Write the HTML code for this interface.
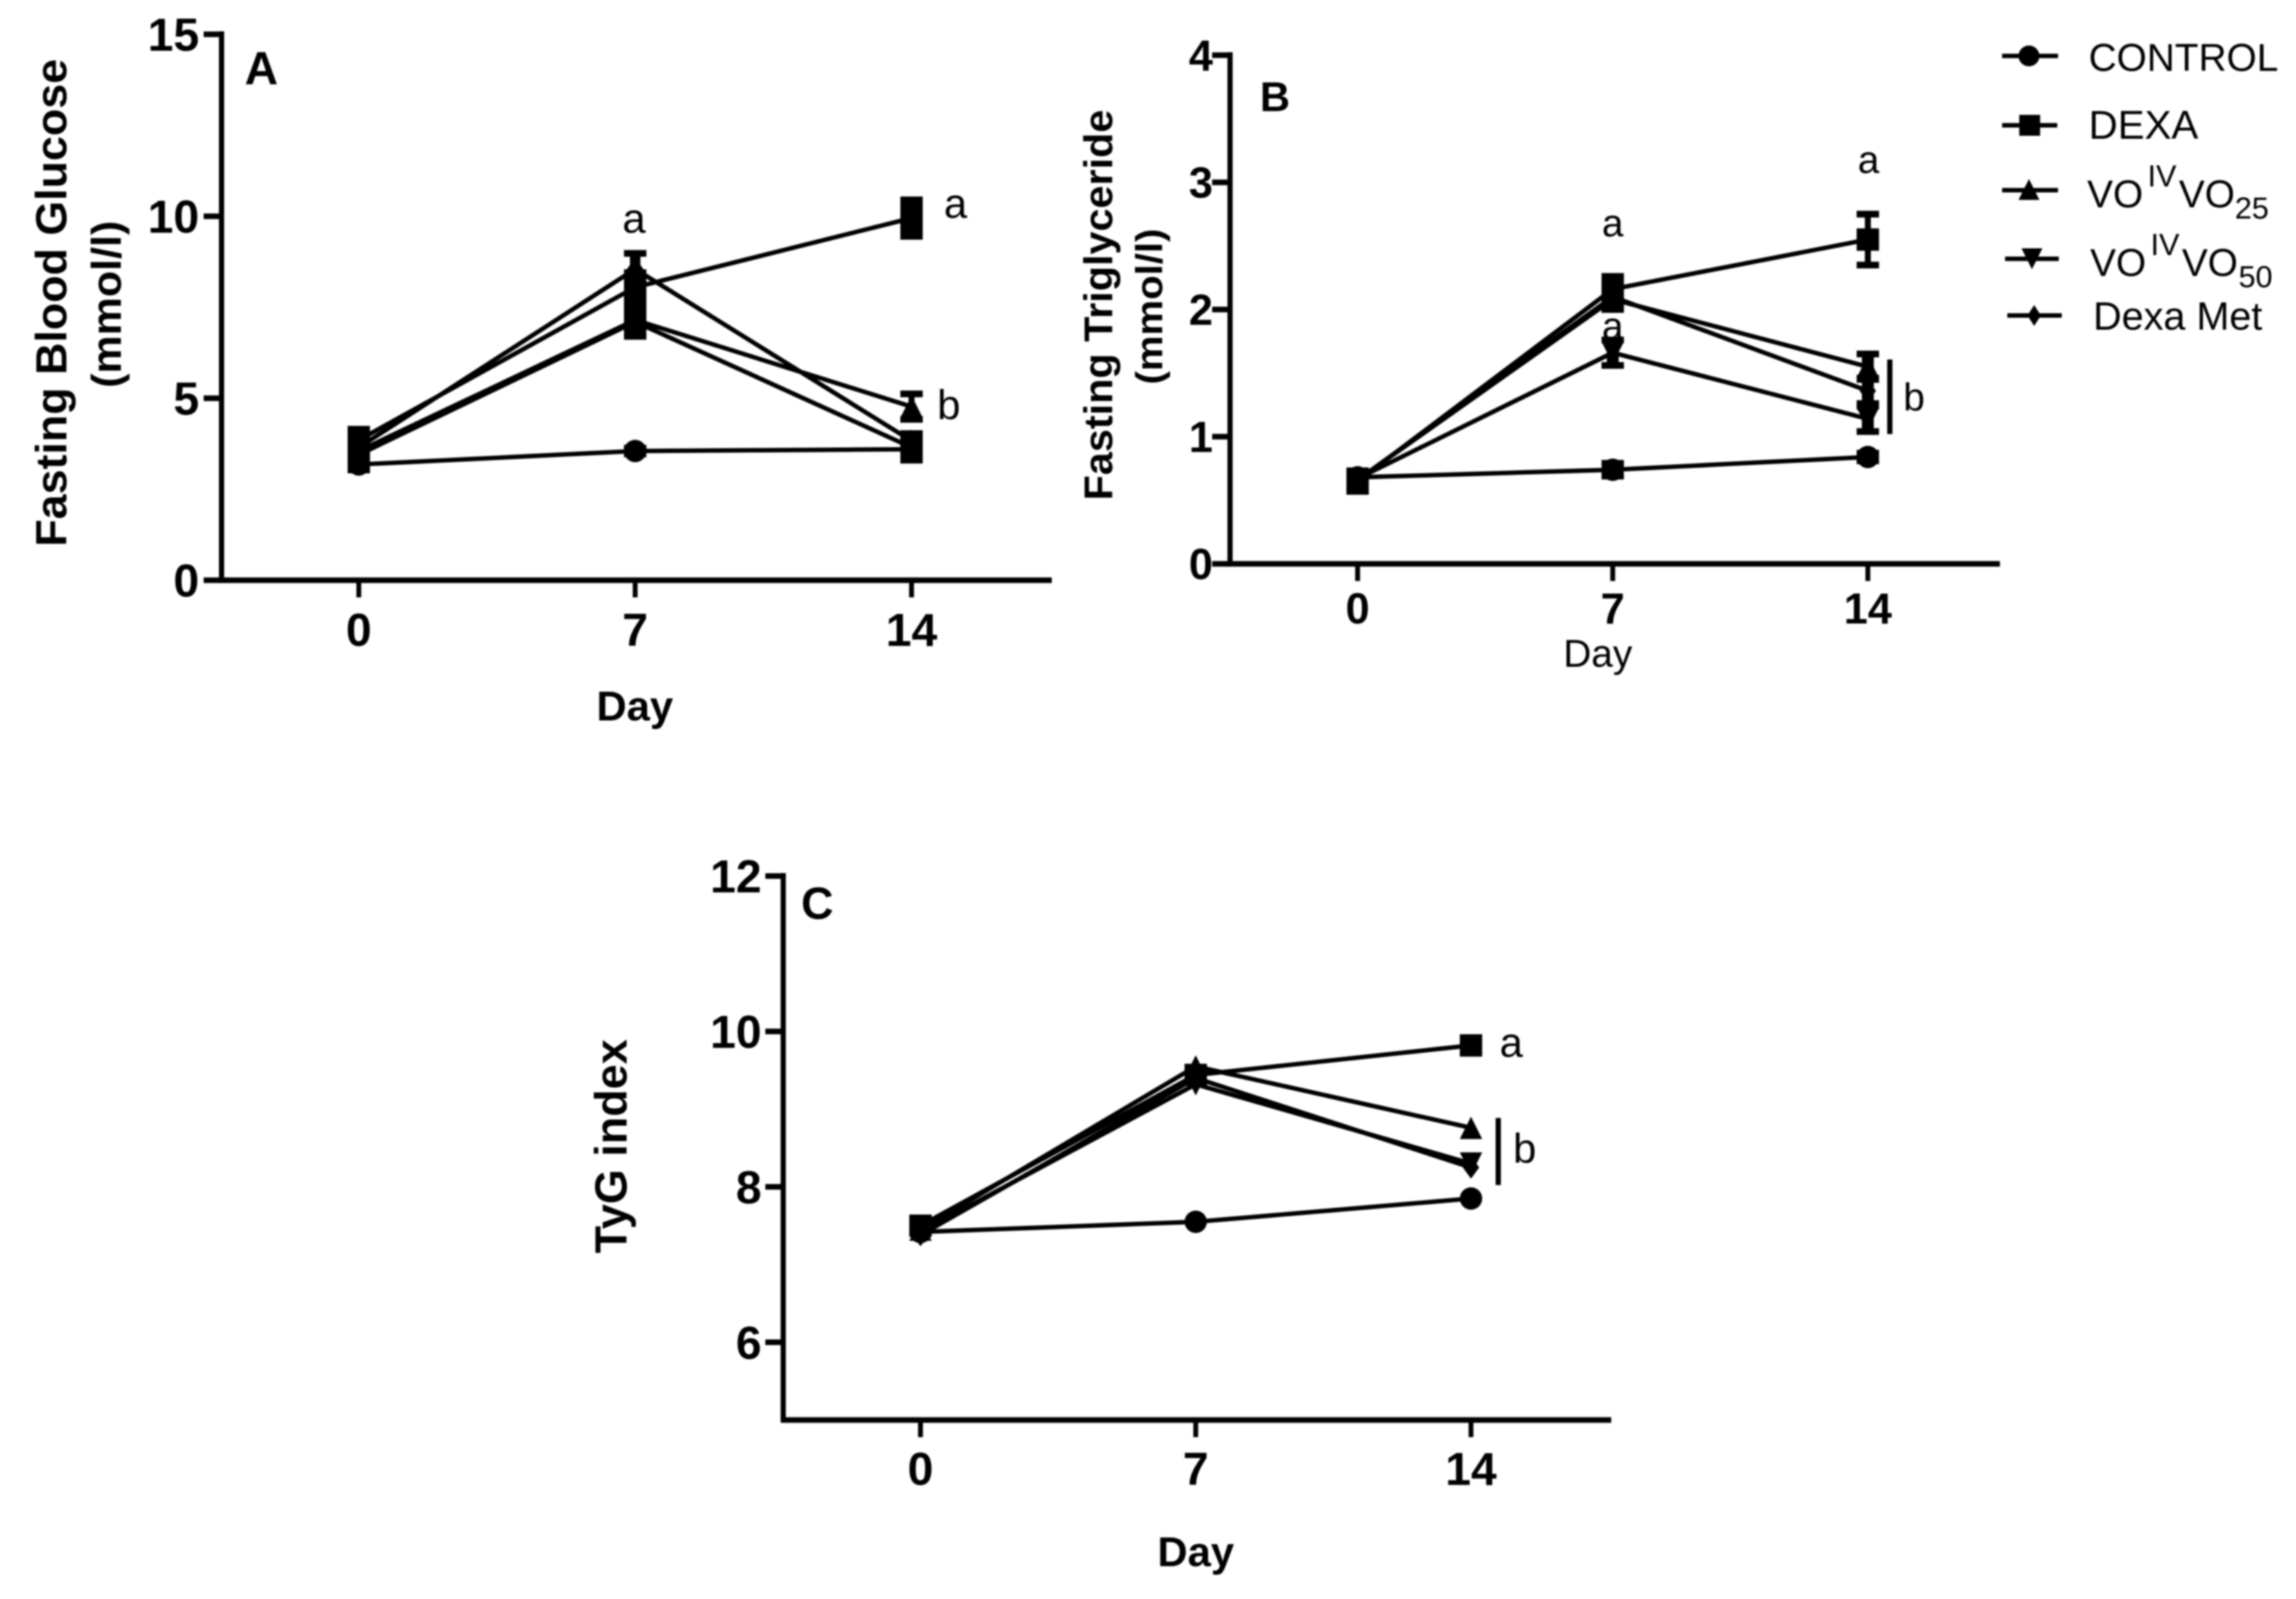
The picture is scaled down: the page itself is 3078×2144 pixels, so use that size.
<!DOCTYPE html>
<html lang="en">
<head>
<meta charset="utf-8">
<title>Fasting glucose, triglyceride and TyG index</title>
<style>
html,body{margin:0;padding:0;background:#fff;}
svg{display:block;filter:blur(1px);}
text{font-family:"Liberation Sans",Arial,sans-serif;fill:#000;}
.b{font-weight:bold;}
</style>
</head>
<body>
<svg id="figure" xmlns="http://www.w3.org/2000/svg" width="3078" height="2144" viewBox="0 0 3078 2144">
<rect width="3078" height="2144" fill="#fff"/>
<g>
<text class="b" x="328" y="113" font-size="62">A</text>
<text class="b" transform="translate(89,406) rotate(-90)" text-anchor="middle" font-size="58" textLength="654" lengthAdjust="spacingAndGlyphs">Fasting Blood Glucose</text>
<text class="b" transform="translate(162,408) rotate(-90)" text-anchor="middle" font-size="56" textLength="224" lengthAdjust="spacingAndGlyphs">(mmol/l)</text>
<text class="b" x="851" y="966" text-anchor="middle" font-size="56">Day</text>
<text x="850" y="312" text-anchor="middle" font-size="56">a</text>
<text x="1281" y="292" text-anchor="middle" font-size="56">a</text>
<text x="1272" y="562" text-anchor="middle" font-size="56">b</text>
</g>
<g>
<text class="b" x="1689" y="149" font-size="56">B</text>
<text class="b" transform="translate(1491,409) rotate(-90)" text-anchor="middle" font-size="54" textLength="524" lengthAdjust="spacingAndGlyphs">Fasting Triglyceride</text>
<text class="b" transform="translate(1558,411) rotate(-90)" text-anchor="middle" font-size="50" textLength="209" lengthAdjust="spacingAndGlyphs">(mmol/l)</text>
<text x="2142" y="894" text-anchor="middle" font-size="52">Day</text>
<text x="2162" y="317" text-anchor="middle" font-size="52">a</text>
<text x="2505" y="232" text-anchor="middle" font-size="52">a</text>
<text x="2162" y="455" text-anchor="middle" font-size="52">a</text>
<rect x="2530" y="482" width="7" height="100" fill="#000"/>
<text x="2566" y="550" text-anchor="middle" font-size="52">b</text>
</g>
<g>
<text class="b" x="1074" y="1232" font-size="60">C</text>
<text class="b" transform="translate(840,1537) rotate(-90)" text-anchor="middle" font-size="60" textLength="287" lengthAdjust="spacingAndGlyphs">TyG index</text>
<text class="b" x="1603" y="2100" text-anchor="middle" font-size="56">Day</text>
<text x="2026" y="1417" text-anchor="middle" font-size="56">a</text>
<rect x="2005" y="1499" width="7" height="90" fill="#000"/>
<text x="2044" y="1559" text-anchor="middle" font-size="56">b</text>
</g>
<g>
<g>
<rect x="2684" y="72" width="75" height="6" fill="#000"/>
<circle cx="2720" cy="75" r="14" fill="#000"/>
<text x="2800" y="95" font-size="52">CONTROL</text>
</g>
<g>
<rect x="2684" y="165" width="74" height="6" fill="#000"/>
<rect x="2707" y="154" width="28" height="28" fill="#000"/>
<text x="2800" y="186" font-size="54">DEXA</text>
</g>
<g>
<rect x="2684" y="252" width="75" height="6" fill="#000"/>
<polygon points="2720,240 2734,268 2706,268" fill="#000"/>
<text y="278" font-size="52"><tspan x="2798">VO</tspan><tspan x="2879" y="250" font-size="41">IV</tspan><tspan x="2921" y="278">VO</tspan><tspan x="2996" y="293" font-size="41">25</tspan></text>
</g>
<g>
<rect x="2688" y="344" width="72" height="6" fill="#000"/>
<polygon points="2710,333 2738,333 2724,361" fill="#000"/>
<text y="370" font-size="52"><tspan x="2802">VO</tspan><tspan x="2883" y="342" font-size="41">IV</tspan><tspan x="2925" y="370">VO</tspan><tspan x="3001" y="385" font-size="41">50</tspan></text>
</g>
<g>
<rect x="2691" y="420" width="73" height="6" fill="#000"/>
<polygon points="2727,409 2736,423 2727,437 2718,423" fill="#000"/>
<text x="2806" y="442" font-size="53">Dexa Met</text>
</g>
</g>
</svg>
<script>
// Shared x categories
const days = [0, 7, 14];
const dayLabels = ['0', '7', '14'];

// Panel A: fasting blood glucose
const aTicks = [0, 5, 10, 15];
const aControl = [3.18, 3.55, 3.6];
const aDexa = [3.85, 8.05, 9.95];
const aVo25 = [3.55, 7.15, 4.77];
const aVo50 = [3.45, 7.1, 3.65];
const aMet = [3.65, 8.55, 3.83];
const aControlErr = [0.15, 0.08, 0.1];
const aDexaErr = [0.3, 0.4, 0.5];
const aVo25Err = [0.2, 0.42, 0.35];
const aVo50Err = [0.2, 0.4, 0.35];
const aMetErr = [0.25, 0.43, 0.2];

// Panel B: fasting triglyceride
const bTicks = [0, 1, 2, 3, 4];
const bControl = [0.68, 0.74, 0.84];
const bDexa = [0.65, 2.16, 2.55];
const bVo25 = [0.66, 2.08, 1.55];
const bVo50 = [0.67, 1.66, 1.14];
const bMet = [0.66, 2.1, 1.36];
const bControlErr = [0.05, 0.05, 0.03];
const bDexaErr = [0.08, 0.1, 0.2];
const bVo25Err = [0.05, 0.08, 0.1];
const bVo50Err = [0.05, 0.1, 0.1];
const bMetErr = [0.05, 0.08, 0.1];

// Panel C: TyG index
const cTicks = [6, 8, 10, 12];
const cControl = [7.42, 7.55, 7.85];
const cDexa = [7.5, 9.44, 9.82];
const cVo25 = [7.45, 9.55, 8.76];
const cVo50 = [7.42, 9.32, 8.3];
const cMet = [7.38, 9.4, 8.25];

const NS = 'http://www.w3.org/2000/svg';
const figure = document.getElementById('figure');
const MARKER_SIZE = 15;

function mk(tag, attrs, parent) {
  const el = document.createElementNS(NS, tag);
  for (const k in attrs) el.setAttribute(k, attrs[k]);
  parent.appendChild(el);
  return el;
}

function marker(shape, cx, cy, parent) {
  const s = MARKER_SIZE;
  let el;
  if (shape === 'circle') {
    el = mk('circle', {cx: cx, cy: cy, r: s, fill: '#000'}, parent);
  } else if (shape === 'square') {
    el = mk('rect', {x: cx - s, y: cy - s, width: 2 * s, height: 2 * s, fill: '#000'}, parent);
  } else if (shape === 'up') {
    el = mk('polygon', {points: [cx, cy - s, cx + s, cy + s, cx - s, cy + s].join(' '), fill: '#000'}, parent);
  } else if (shape === 'down') {
    el = mk('polygon', {points: [cx - s, cy - s, cx + s, cy - s, cx, cy + s].join(' '), fill: '#000'}, parent);
  } else {
    el = mk('polygon', {points: [cx, cy - s, cx + 11, cy, cx, cy + s, cx - 11, cy].join(' '), fill: '#000'}, parent);
  }
  return el;
}

function drawPanel(p) {
  const g = mk('g', {}, figure);
  
  

  const xScale = d => p.x0 + (d - days[0]) * (p.x14 - p.x0) / (days[days.length - 1] - days[0]);
  const yScale = v => p.yBase - (v - p.yMin) * p.unit;

  const yTop = yScale(p.ticks[p.ticks.length - 1]);
  const yAxis = mk('line', {x1: p.axisX, x2: p.axisX, y1: yTop - 4, y2: p.yBase + 3, stroke: '#000', 'stroke-width': 7}, g);
  
  
  const xAxis = mk('line', {x1: p.axisX - 3, x2: p.axisEnd, y1: p.yBase, y2: p.yBase, stroke: '#000', 'stroke-width': 7.5}, g);
  
  

  p.ticks.forEach(t => {
    const y = yScale(t);
    const tick = mk('line', {x1: p.axisX - 24, x2: p.axisX, y1: y, y2: y, stroke: '#000', 'stroke-width': 7.5}, g);
    
    
    const label = mk('text', {x: p.labelRight, y: y + p.fontSize * 0.355, 'text-anchor': 'end', 'font-size': p.fontSize, 'font-weight': 'bold'}, g);
    label.textContent = String(t);
    
    
  });

  days.forEach((d, i) => {
    const x = xScale(d);
    const tick = mk('line', {x1: x, x2: x, y1: p.yBase, y2: p.yBase + 23, stroke: '#000', 'stroke-width': 6.5}, g);
    
    
    const label = mk('text', {x: x, y: p.xLabelY, 'text-anchor': 'middle', 'font-size': p.fontSize, 'font-weight': 'bold'}, g);
    label.textContent = dayLabels[i];
    
    
  });

  p.series.forEach(s => {
    const sg = mk('g', {}, g);
    
    
    const pts = days.map((d, i) => xScale(d) + ',' + yScale(s.values[i])).join(' ');
    const line = mk('polyline', {points: pts, fill: 'none', stroke: '#000', 'stroke-width': 6, 'stroke-linejoin': 'miter'}, sg);
    
    
    days.forEach((d, i) => {
      const x = xScale(d), y = yScale(s.values[i]);
      if (s.errs) {
        const up = yScale(s.values[i] + s.errs[i]);
        const lo = yScale(s.values[i] - s.errs[i]);
        const stem = mk('line', {x1: x, x2: x, y1: up, y2: lo, stroke: '#000', 'stroke-width': s.stem}, sg);
        
        
        const caps = mk('path', {d: 'M' + (x - 15) + ' ' + up + 'H' + (x + 15) + 'M' + (x - 15) + ' ' + lo + 'H' + (x + 15), fill: 'none', stroke: '#000', 'stroke-width': 9}, sg);
        
        
      }
      const m = marker(s.shape, x, y, sg);
      
      
    });
  });
}

drawPanel({
  id: 'a', x0: 481, x14: 1222, axisX: 297, axisEnd: 1410, yBase: 778, yMin: 0, unit: 48.8,
  ticks: aTicks, labelRight: 267, xLabelY: 866, fontSize: 62,
  series: [
    {name: 'control', shape: 'circle', values: aControl, errs: aControlErr, stem: 7},
    {name: 'dexa', shape: 'square', values: aDexa, errs: aDexaErr, stem: 30},
    {name: 'vo25', shape: 'up', values: aVo25, errs: aVo25Err, stem: 8},
    {name: 'vo50', shape: 'down', values: aVo50, errs: aVo50Err, stem: 30},
    {name: 'dexa-met', shape: 'diamond', values: aMet, errs: aMetErr, stem: 14}
  ]
});
drawPanel({
  id: 'b', x0: 1820, x14: 2504, axisX: 1649, axisEnd: 2681, yBase: 756, yMin: 0, unit: 170.5,
  ticks: bTicks, labelRight: 1626, xLabelY: 836, fontSize: 58,
  series: [
    {name: 'control', shape: 'circle', values: bControl, errs: bControlErr, stem: 8},
    {name: 'dexa', shape: 'square', values: bDexa, errs: bDexaErr, stem: 8},
    {name: 'vo25', shape: 'up', values: bVo25, errs: bVo25Err, stem: 16},
    {name: 'vo50', shape: 'down', values: bVo50, errs: bVo50Err, stem: 16},
    {name: 'dexa-met', shape: 'diamond', values: bMet, errs: bMetErr, stem: 16}
  ]
});
drawPanel({
  id: 'c', x0: 1234, x14: 1972, axisX: 1050, axisEnd: 2160, yBase: 1904, yMin: 5, unit: 104.2,
  ticks: cTicks, labelRight: 1021, xLabelY: 1991, fontSize: 62,
  series: [
    {name: 'control', shape: 'circle', values: cControl},
    {name: 'dexa', shape: 'square', values: cDexa},
    {name: 'vo25', shape: 'up', values: cVo25},
    {name: 'vo50', shape: 'down', values: cVo50},
    {name: 'dexa-met', shape: 'diamond', values: cMet}
  ]
});
</script>
</body>
</html>
